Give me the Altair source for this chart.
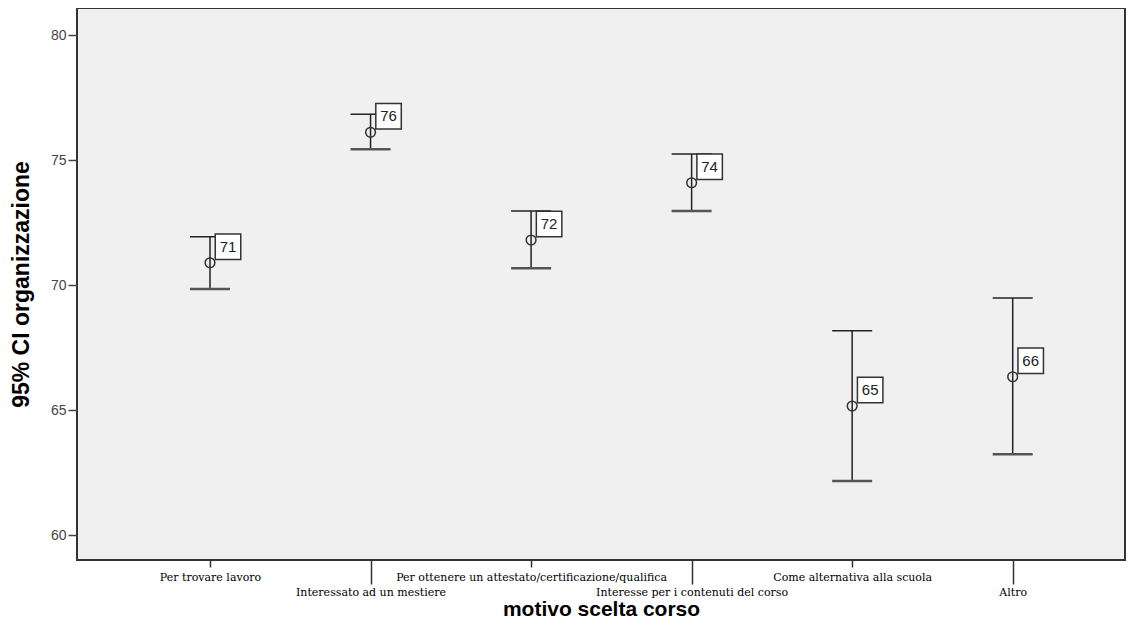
import altair as alt
import pandas as pd

categories = [
    "Per trovare lavoro",
    "Interessato ad un mestiere",
    "Per ottenere un attestato/certificazione/qualifica",
    "Interesse per i contenuti del corso",
    "Come alternativa alla scuola",
    "Altro",
]
positions = [1, 2, 3, 4, 5, 6]
means = [70.89, 76.11, 71.80, 74.09, 65.16, 66.33]
lower = [69.84, 75.43, 70.67, 72.96, 62.16, 63.23]
upper = [71.93, 76.83, 72.96, 75.24, 68.17, 69.48]
y_ticks = [60, 65, 70, 75, 80]

df = pd.DataFrame({
    "pos": positions,
    "cat": categories,
    "mean": means,
    "lower": lower,
    "upper": upper,
    "label": [str(round(m)) for m in means],
})

label_array = "[" + ",".join("'" + c + "'" for c in categories) + "]"

x_enc = alt.X(
    "pos:Q",
    scale=alt.Scale(domain=[0.1715, 6.6995], nice=False, zero=False),
    axis=alt.Axis(
        values=positions,
        labelExpr=label_array + "[datum.value - 1]",
        title="motivo scelta corso",
        grid=False,
        domain=False,
        labelAngle=0,
        labelOverlap=False,
        labelFlush=False,
        labelBound=False,
        labelLimit=0,
        labelFont="DejaVu Serif",
        labelFontSize=11,
        labelColor="black",
        tickColor="#333333",
        tickWidth=1.5,
        tickSize={"condition": {"test": "datum.value % 2 == 0", "value": 24}, "value": 7},
        labelPadding={"condition": {"test": "datum.value % 2 == 0", "value": 2}, "value": 4},
        titleFont="Liberation Sans",
        titleFontSize=21,
        titleFontWeight="bold",
        titleColor="black",
        titleBaseline="alphabetic",
        titleY=55,
    ),
)

y_scale = alt.Scale(domain=[59, 81.08], nice=False, zero=False)
y_enc = alt.Y(
    "mean:Q",
    scale=y_scale,
    axis=alt.Axis(
        values=y_ticks,
        title="95% CI organizzazione",
        grid=False,
        domain=False,
        tickSize=9,
        tickWidth=1.5,
        tickColor="#444444",
        labelColor="#444444",
        labelFont="Liberation Sans",
        labelFontSize=14,
        labelPadding=2,
        titleFont="Liberation Sans",
        titleFontSize=23,
        titleFontWeight="bold",
        titleColor="black",
        titleBaseline="middle",
        titleX=-56,
    ),
)

base = alt.Chart(df)

stem = base.mark_rule(color="#222222", strokeWidth=1.5).encode(
    x=x_enc, y=alt.Y("lower:Q", scale=y_scale), y2="upper:Q"
)
cap_top = base.mark_rule(color="#222222", strokeWidth=1.5, xOffset=-20, x2Offset=20).encode(
    x="pos:Q", x2="pos:Q", y=alt.Y("upper:Q", scale=y_scale)
)
cap_bot = base.mark_rule(color="#555555", strokeWidth=2.5, xOffset=-20, x2Offset=20).encode(
    x="pos:Q", x2="pos:Q", y=alt.Y("lower:Q", scale=y_scale)
)
dots = base.mark_point(shape="circle", filled=False, size=95, color="#333333", strokeWidth=1.5, opacity=1).encode(
    x="pos:Q", y=y_enc
)
boxes = base.mark_point(
    shape="square", filled=True, fill="white", stroke="#333333", strokeWidth=1.5,
    size=650, xOffset=18, yOffset=-16, opacity=1
).encode(x="pos:Q", y="mean:Q")
texts = base.mark_text(
    font="Liberation Sans", fontSize=15, color="#222222", xOffset=18, yOffset=-16,
    align="center", baseline="middle"
).encode(x="pos:Q", y="mean:Q", text="label:N")

chart = alt.layer(stem, cap_top, cap_bot, dots, boxes, texts).properties(
    width=1048,
    height=552,
    autosize=alt.AutoSizeParams(type="none"),
    padding={"left": 69, "top": 0, "right": 6, "bottom": 70},
    background="white",
).configure_view(fill="#F0F0F0", stroke="#333333", strokeWidth=2)

chart.save("out.html", embed_options={"renderer": "svg", "actions": False})
